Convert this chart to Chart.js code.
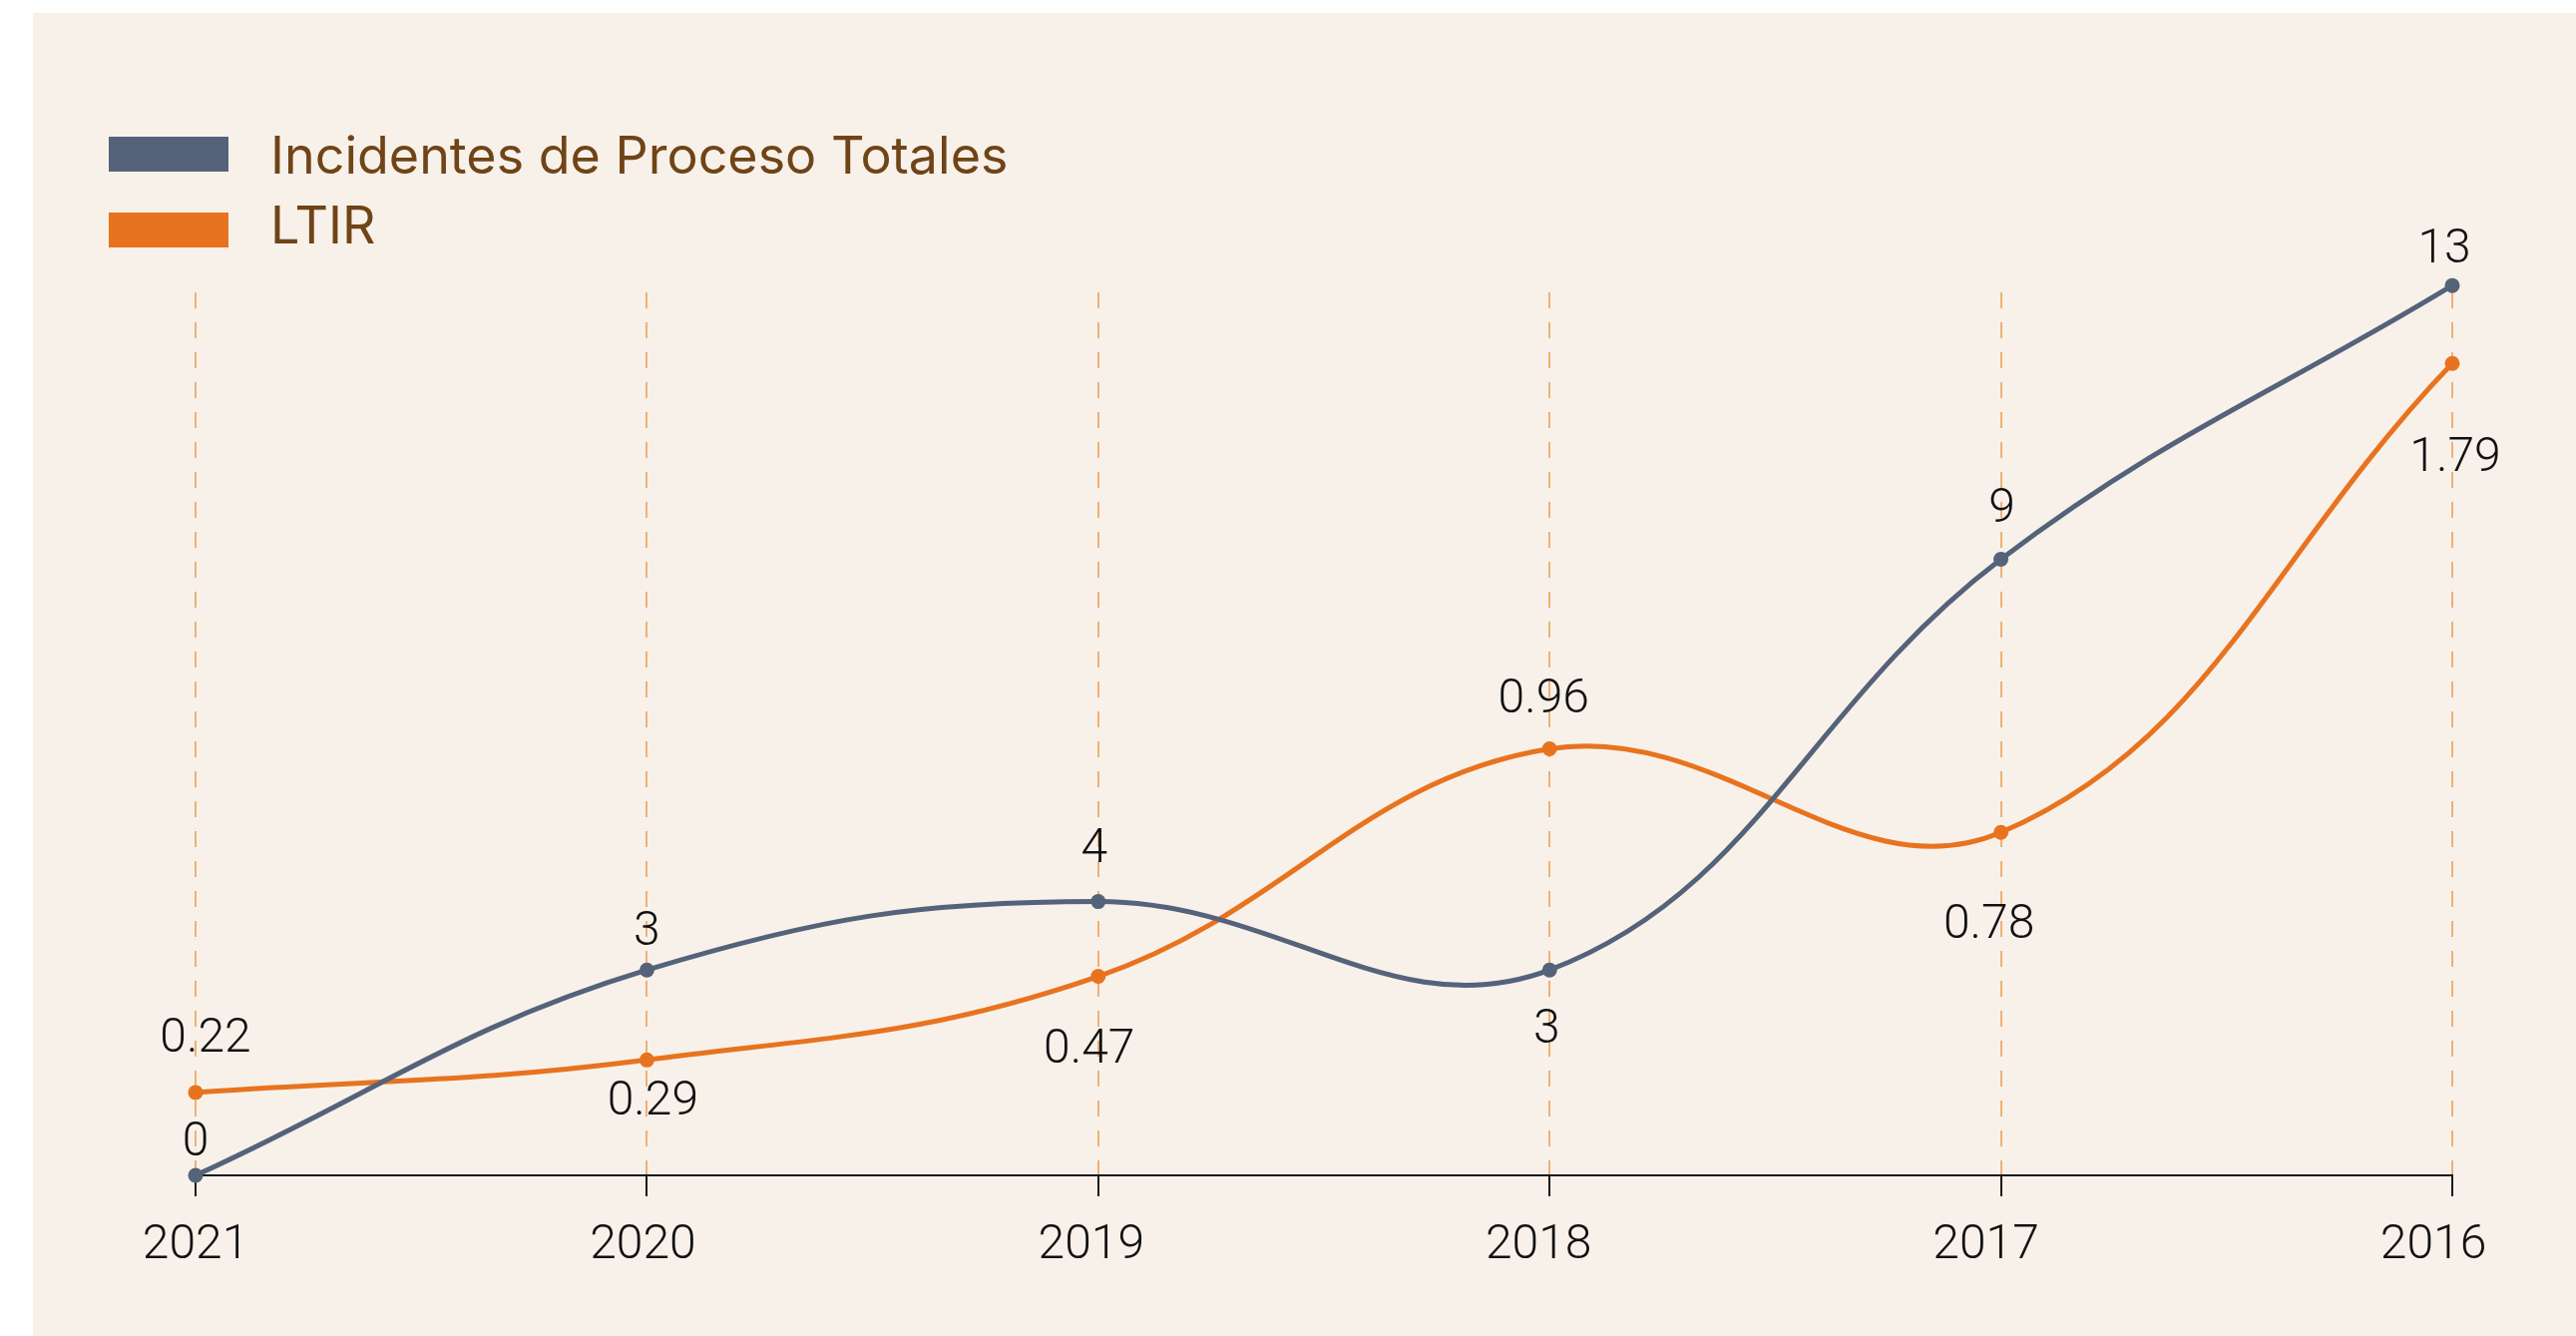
<!DOCTYPE html>
<html>
<head>
<meta charset="utf-8">
<script src="https://cdn.jsdelivr.net/npm/chart.js@4.4.1/dist/chart.umd.min.js"></script>
<style>
  html, body { margin: 0; padding: 0; background: #fff; }
  canvas { display: block; }
</style>
</head>
<body>
<canvas id="incidentsChart" width="2582" height="1339"></canvas>
<script>
// Years on the x axis (newest first, as in the report)
const years = ['2021', '2020', '2019', '2018', '2017', '2016'];

// Series values
const processIncidents = [0, 3, 4, 3, 9, 13];
const ltir = [0.22, 0.29, 0.47, 0.96, 0.78, 1.79];

const seriesNames = ['Incidentes de Proceso Totales', 'LTIR'];

// Where each value label sits relative to its point (px)
const incidentLabelDx = [0, 0, -4, -3, 1, -8];
const incidentLabelDy = [-36, -41, -56, 57, -54, -39];
const ltirLabelDx = [10, 6, -9, -6, -12, 3];
const ltirLabelDy = [-57, 39, 70, -53, 90, 92];
// year labels drift slightly left of their ticks in the original
const yearLabelDx = [0, -4, -7, -11, -15, -19];

const BLUE = '#54637a';
const ORANGE = '#e8731f';
const PANEL = '#f8f1ea';
const NUMBER_FONT = '300 48px Roboto, "Noto Sans", sans-serif';

// beige panel behind everything
const panelBackground = {
  id: 'panelBackground',
  beforeDraw(chart) {
    const ctx = chart.ctx;
    ctx.save();
    ctx.fillStyle = '#ffffff';
    ctx.fillRect(0, 0, chart.width, chart.height);
    ctx.fillStyle = PANEL;
    ctx.fillRect(33, 13, chart.width - 33, chart.height - 13);
    ctx.restore();
  }
};

// stacked legend in the top left corner
const boxLegend = {
  id: 'boxLegend',
  afterDraw(chart) {
    const ctx = chart.ctx;
    ctx.save();
    chart.data.datasets.forEach((ds, i) => {
      ctx.fillStyle = ds.borderColor;
      ctx.fillRect(109, 137 + i * 76, 120, 35);
      ctx.fillStyle = '#6f4417';
      ctx.font = '400 52px Inter, "Noto Sans", sans-serif';
      ctx.textAlign = 'left';
      ctx.textBaseline = 'alphabetic';
      ctx.fillText(ds.label, 271, 174 + i * 70);
    });
    ctx.restore();
  }
};

// year labels under the ticks of the x scale
const yearLabels = {
  id: 'yearLabels',
  afterDraw(chart) {
    const ctx = chart.ctx;
    const xScale = chart.scales.x;
    ctx.save();
    ctx.font = NUMBER_FONT;
    ctx.fillStyle = '#111111';
    ctx.textAlign = 'center';
    ctx.textBaseline = 'middle';
    xScale.ticks.forEach((tick, i) => {
      ctx.fillText(xScale.getLabelForValue(tick.value), xScale.getPixelForTick(i) + yearLabelDx[i], xScale.top + 71);
    });
    ctx.restore();
  }
};

// value labels next to each point
const valueLabels = {
  id: 'valueLabels',
  afterDatasetsDraw(chart) {
    const ctx = chart.ctx;
    const offsets = [[incidentLabelDx, incidentLabelDy], [ltirLabelDx, ltirLabelDy]];
    ctx.save();
    ctx.font = NUMBER_FONT;
    ctx.fillStyle = '#111111';
    ctx.textAlign = 'center';
    ctx.textBaseline = 'middle';
    chart.data.datasets.forEach((ds, i) => {
      const [dx, dy] = offsets[i];
      chart.getDatasetMeta(i).data.forEach((pt, j) => {
        ctx.fillText(String(ds.data[j]), pt.x + dx[j], pt.y + dy[j] + 4);
      });
    });
    ctx.restore();
  }
};

const ctx = document.getElementById('incidentsChart').getContext('2d');

new Chart(ctx, {
  type: 'line',
  data: {
    labels: years,
    datasets: [
      {
        label: seriesNames[0],
        data: processIncidents,
        yAxisID: 'y',
        borderColor: BLUE,
        backgroundColor: BLUE,
        borderWidth: 5,
        pointRadius: 7.5,
        pointBorderWidth: 0,
        tension: 0.4,
        clip: false,
        fill: false
      },
      {
        label: seriesNames[1],
        data: ltir,
        yAxisID: 'y2',
        borderColor: ORANGE,
        backgroundColor: ORANGE,
        borderWidth: 5,
        pointRadius: 7.5,
        pointBorderWidth: 0,
        tension: 0.4,
        clip: false,
        fill: false
      }
    ]
  },
  options: {
    responsive: false,
    animation: false,
    devicePixelRatio: 1,
    layout: { padding: { left: 196, right: 124, top: 293, bottom: 0 } },
    plugins: {
      legend: { display: false },
      tooltip: { enabled: false }
    },
    scales: {
      x: {
        afterFit(scale) { scale.height = 161; },
        grid: {
          color: '#eeb173',
          lineWidth: 2,
          tickLength: 21,
          tickColor: '#1a1a1a',
          tickWidth: 2
        },
        border: { display: true, color: '#1a1a1a', width: 2, dash: [16, 14] },
        ticks: { display: false, autoSkip: false }
      },
      y: { display: false, min: 0, max: 12.9 },
      y2: { display: false, position: 'right', min: 0.0415, max: 1.943 }
    }
  },
  plugins: [panelBackground, boxLegend, yearLabels, valueLabels]
});
</script>
</body>
</html>
